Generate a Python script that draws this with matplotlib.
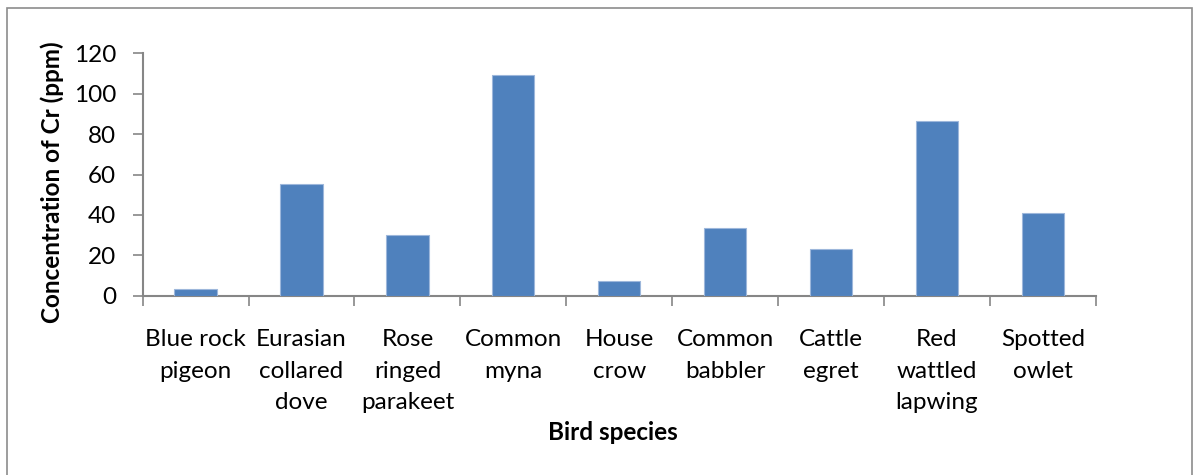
import matplotlib
matplotlib.use("Agg")
import matplotlib.pyplot as plt
from matplotlib.patches import Rectangle
import numpy as np

plt.rcParams['font.family'] = ['Lato', 'DejaVu Sans']

species = [
    "Blue rock\npigeon", "Eurasian\ncollared\ndove", "Rose\nringed\nparakeet",
    "Common\nmyna", "House\ncrow", "Common\nbabbler", "Cattle\negret",
    "Red\nwattled\nlapwing", "Spotted\nowlet",
]
cr_ppm = [3.5, 55.1, 29.9, 109.2, 7.1, 33.7, 23.3, 86.3, 41.1]
y_ticks = [0, 20, 40, 60, 80, 100, 120]

W, H, DPI = 1195, 475, 100
fig = plt.figure(figsize=(W / DPI, H / DPI), dpi=DPI)
fig.patch.set_facecolor("white")

# chart-area frame
fig.patches.append(Rectangle((7 / W, -0.05), (1192 - 7) / W, 1.05 - 8 / H,
                             transform=fig.transFigure, fill=False,
                             edgecolor="#8c8c8c", linewidth=1.2))

ax = fig.add_axes([142.7 / W, 1 - 295.7 / H, (1095.7 - 142.7) / W, (295.7 - 53.3) / H])
x = np.arange(len(species))
ax.bar(x, cr_ppm, width=0.4, color="#4F81BD", edgecolor="#9DB7DB", linewidth=0.8, zorder=3)

ax.set_xlim(-0.5, len(species) - 0.5)
ax.set_ylim(0, 120)

gray = "#868686"
for side in ("top", "right"):
    ax.spines[side].set_visible(False)
for side in ("left", "bottom"):
    ax.spines[side].set_color(gray)
    ax.spines[side].set_linewidth(1.5)

FS = 17.5
ax.set_yticks(y_ticks)
ax.set_yticklabels([str(v) for v in y_ticks])
ax.tick_params(axis="y", direction="out", length=7, width=1.2, color=gray,
               labelsize=FS, pad=12, labelcolor="black")

ax.set_xticks(x)
ax.set_xticklabels(species, fontsize=FS, linespacing=1.63, va="top")
ax.set_xticks(np.arange(-0.5, len(species), 1.0), minor=True)
ax.tick_params(axis="x", which="major", length=0, pad=24)
ax.tick_params(axis="x", which="minor", direction="out", length=7, width=1.2, color=gray)

fig.text(613 / W, 1 - 433 / H, "Bird species", fontsize=FS, fontweight="bold",
         ha="center", va="center")
fig.text(52 / W, 1 - 182 / H, "Concentration of Cr (ppm)", fontsize=FS, fontweight="bold",
         ha="center", va="center", rotation=90)

fig.savefig("out.png", dpi=DPI, facecolor="white")
